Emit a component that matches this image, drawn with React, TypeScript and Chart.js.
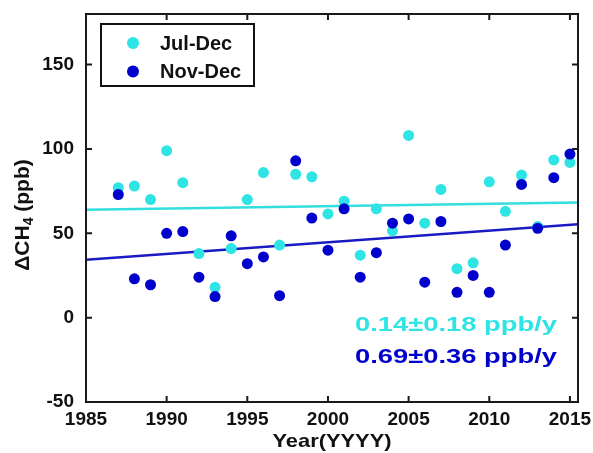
import React, { useEffect, useRef } from 'react';
import { Chart, registerables } from 'chart.js';

Chart.register(...registerables);

const years = [1987, 1988, 1989, 1990, 1991, 1992, 1993, 1994, 1995, 1996, 1997, 1998, 1999, 2000, 2001, 2002, 2003, 2004, 2005, 2006, 2007, 2008, 2009, 2010, 2011, 2012, 2013, 2014, 2015];
const julDec = [77, 78, 70, 99, 80, 38, 18, 41, 70, 86, 43, 85, 83.5, 61.5, 69, 37, 64.5, 51.5, 108, 56, 76, 29, 32.5, 80.5, 63, 84.5, 54, 93.5, 92];
const novDec = [73, 23, 19.5, 50, 51, 24, 12.5, 48.5, 32, 36, 13, 93, 59, 40, 64.5, 24, 38.5, 56, 58.5, 21, 57, 15, 25, 15, 43, 79, 53, 83, 97];
const trendYears = [1985, 2015.5];
const julTrend = [64, 68.3];
const novTrend = [34.3, 55.3];
const xTicks = [1985, 1990, 1995, 2000, 2005, 2010, 2015];
const yTicks = [-50, 0, 50, 100, 150];
const seriesLabels = ['Jul-Dec', 'Nov-Dec'];
const rateLabels = ['0.14\u00b10.18 ppb/y', '0.69\u00b10.36 ppb/y'];
const xTitle = 'Year(YYYY)';
const yTitleParts = ['\u0394CH', '4', ' (ppb)'];

const CYAN = '#2EE4E4';
const BLUE = '#0000CC';
const CYAN_LINE = '#33DEDE';
const BLUE_LINE = '#1A1AC4';
const FONT = '"Liberation Sans", Arial, sans-serif';

const decorPlugin = {
  id: 'decor',
  afterDraw(chart: any) {
    const { ctx, chartArea: a, scales } = chart;
    const xs = scales.x;
    const ys = scales.y;
    ctx.save();
    // frame
    ctx.strokeStyle = '#1a1a1a';
    ctx.lineWidth = 2;
    ctx.strokeRect(a.left, a.top, a.right - a.left, a.bottom - a.top);
    // inward ticks on all sides
    const tl = 6;
    ctx.beginPath();
    xTicks.forEach((v) => {
      const px = xs.getPixelForValue(v);
      ctx.moveTo(px, a.bottom);
      ctx.lineTo(px, a.bottom - tl);
      ctx.moveTo(px, a.top);
      ctx.lineTo(px, a.top + tl);
    });
    yTicks.forEach((v) => {
      const py = ys.getPixelForValue(v);
      ctx.moveTo(a.left, py);
      ctx.lineTo(a.left + tl, py);
      ctx.moveTo(a.right, py);
      ctx.lineTo(a.right - tl, py);
    });
    ctx.stroke();

    // legend box
    const lx = a.left + 15;
    const ly = a.top + 10;
    const lw = 153;
    const lh = 62;
    ctx.fillStyle = '#ffffff';
    ctx.fillRect(lx, ly, lw, lh);
    ctx.strokeStyle = '#111';
    ctx.lineWidth = 2;
    ctx.strokeRect(lx, ly, lw, lh);
    const cols = [CYAN, BLUE];
    seriesLabels.forEach((lab, i) => {
      const cy = ly + 19 + i * 28.5;
      ctx.fillStyle = cols[i];
      ctx.beginPath();
      ctx.arc(lx + 32, cy, 6, 0, Math.PI * 2);
      ctx.fill();
      ctx.fillStyle = '#111';
      ctx.font = `bold 20px ${FONT}`;
      ctx.textAlign = 'left';
      ctx.textBaseline = 'middle';
      ctx.fillText(lab, lx + 59, cy + 1);
    });

    // rate annotations
    const rateCols = [CYAN, BLUE];
    rateLabels.forEach((t, i) => {
      ctx.font = `bold 20px ${FONT}`;
      const w = ctx.measureText(t).width;
      const sx = 202 / w;
      ctx.save();
      ctx.translate(a.right - 21, a.top + 311 + i * 32);
      ctx.scale(sx, 1);
      ctx.fillStyle = rateCols[i];
      ctx.textAlign = 'right';
      ctx.textBaseline = 'middle';
      ctx.fillText(t, 0, 0);
      ctx.restore();
    });

    // x title
    ctx.fillStyle = '#111';
    ctx.font = `bold 19px ${FONT}`;
    ctx.textAlign = 'center';
    ctx.textBaseline = 'middle';
    ctx.save();
    ctx.translate((a.left + a.right) / 2, 442);
    ctx.scale(1.15, 1);
    ctx.fillText(xTitle, 0, 0);
    ctx.restore();

    // y title with subscript
    ctx.save();
    ctx.translate(23, 215);
    ctx.rotate(-Math.PI / 2);
    ctx.textAlign = 'left';
    ctx.textBaseline = 'middle';
    const big = `bold 21px ${FONT}`;
    const small = `bold 14px ${FONT}`;
    ctx.font = big;
    const w0 = ctx.measureText(yTitleParts[0]).width;
    const w2 = ctx.measureText(yTitleParts[2]).width;
    ctx.font = small;
    const w1 = ctx.measureText(yTitleParts[1]).width;
    let x0 = -(w0 + w1 + w2) / 2;
    ctx.font = big;
    ctx.fillText(yTitleParts[0], x0, 0);
    x0 += w0;
    ctx.font = small;
    ctx.fillText(yTitleParts[1], x0, 6);
    x0 += w1;
    ctx.font = big;
    ctx.fillText(yTitleParts[2], x0, 0);
    ctx.restore();

    ctx.restore();
  },
};

export default function App() {
  const ref = useRef<HTMLCanvasElement | null>(null);
  useEffect(() => {
    if (!ref.current) return;
    const chart = new Chart(ref.current, {
      type: 'scatter',
      data: {
        datasets: [
          {
            label: seriesLabels[1],
            data: years.map((y, i) => ({ x: y, y: novDec[i] })),
            backgroundColor: BLUE,
            borderColor: BLUE,
            pointRadius: 5.5,
            borderWidth: 0,
            order: 0,
          },
          {
            label: seriesLabels[0],
            data: years.map((y, i) => ({ x: y, y: julDec[i] })),
            backgroundColor: CYAN,
            borderColor: CYAN,
            pointRadius: 5.5,
            borderWidth: 0,
            order: 1,
          },
          {
            type: 'line',
            label: 'trend-nov',
            data: trendYears.map((y, i) => ({ x: y, y: novTrend[i] })),
            borderColor: BLUE_LINE,
            borderWidth: 2.5,
            pointRadius: 0,
            showLine: true,
            fill: false,
            order: 2,
          } as any,
          {
            type: 'line',
            label: 'trend-jul',
            data: trendYears.map((y, i) => ({ x: y, y: julTrend[i] })),
            borderColor: CYAN_LINE,
            borderWidth: 2.5,
            pointRadius: 0,
            showLine: true,
            fill: false,
            order: 3,
          } as any,
        ],
      },
      options: {
        responsive: false,
        animation: false,
        devicePixelRatio: 1,
        layout: { padding: { top: 14, right: 15, left: 0, bottom: 0 } },
        plugins: {
          legend: { display: false },
          tooltip: { enabled: false },
          title: { display: false },
        },
        scales: {
          x: {
            type: 'linear',
            min: 1985,
            max: 2015.5,
            afterBuildTicks: (s: any) => {
              s.ticks = xTicks.map((v) => ({ value: v }));
            },
            afterFit: (s: any) => {
              s.height = 51;
              s.paddingLeft = 0;
              s.paddingRight = 0;
            },
            grid: { display: false },
            border: { display: false },
            ticks: {
              color: '#111',
              font: { family: FONT, size: 19, weight: 'bold' },
              padding: -2,
              maxRotation: 0,
              autoSkip: false,
              callback: (v: any) => String(v),
            },
          },
          y: {
            type: 'linear',
            min: -50,
            max: 180,
            afterBuildTicks: (s: any) => {
              s.ticks = yTicks.map((v) => ({ value: v }));
            },
            afterFit: (s: any) => {
              s.width = 86;
              s.paddingTop = 0;
              s.paddingBottom = 0;
            },
            grid: { display: false },
            border: { display: false },
            ticks: {
              color: '#111',
              font: { family: FONT, size: 19, weight: 'bold' },
              padding: 4,
              callback: (v: any) => String(v),
            },
          },
        },
      },
      plugins: [decorPlugin],
    } as any);
    return () => chart.destroy();
  }, []);
  return (
    <div style={{ position: 'absolute', left: 0, top: 0, width: 593, height: 453, background: '#fff' }}>
      <canvas ref={ref} width={593} height={453} />
    </div>
  );
}
